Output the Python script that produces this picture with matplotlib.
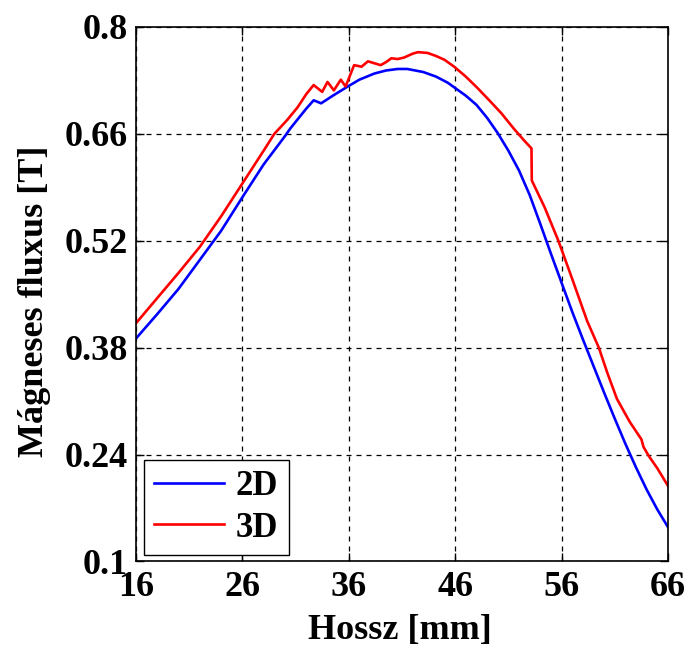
import matplotlib
matplotlib.use("Agg")
import matplotlib.pyplot as plt

x_2d = [16, 18, 20, 22, 24, 26, 28, 30, 30.5, 32, 32.7, 33.4, 34.5, 35.9, 37, 38.4,
        39.5, 40.6, 41.5, 43, 44.2, 45.3, 46.1, 47, 48, 49, 50, 51, 52, 53, 54,
        55, 56, 57, 58, 59, 60, 61, 62, 63, 64, 65, 66]
y_2d = [0.392, 0.424, 0.457, 0.495, 0.533, 0.577, 0.620, 0.657, 0.667, 0.693,
        0.704, 0.700, 0.710, 0.722, 0.731, 0.739, 0.743, 0.745, 0.745, 0.741,
        0.735, 0.727, 0.719, 0.710, 0.698, 0.681, 0.661, 0.638, 0.612, 0.580,
        0.542, 0.503, 0.465, 0.427, 0.391, 0.356, 0.321, 0.287, 0.254, 0.223,
        0.194, 0.168, 0.145]

x_3d = [16, 18, 20, 22, 24, 26, 28, 29, 30.2, 31.2, 32.0, 32.7, 33.5, 34.0, 34.6,
        35.25, 35.7, 36.5, 37.2, 37.8, 39.0, 39.5, 40.0, 40.6, 41.2, 42.0, 42.5,
        43.4, 44.2, 45.0, 45.9, 47.0, 48.1, 49.2, 50.34, 51.5, 52.5, 53.17, 53.2,
        54.4, 55.7, 57.0, 58.4, 59.5, 60.3, 61.2, 62.4, 63.5, 63.7, 64.2, 65.0, 66.0]
y_3d = [0.412, 0.445, 0.478, 0.512, 0.552, 0.595, 0.638, 0.660, 0.678, 0.695,
        0.712, 0.724, 0.715, 0.728, 0.717, 0.731, 0.722, 0.750, 0.748, 0.755,
        0.750, 0.754, 0.759, 0.758, 0.760, 0.765, 0.767, 0.766, 0.762, 0.757,
        0.748, 0.735, 0.720, 0.704, 0.687, 0.667, 0.651, 0.641, 0.599, 0.564,
        0.520, 0.470, 0.415, 0.380, 0.347, 0.313, 0.283, 0.260, 0.250, 0.238,
        0.222, 0.199]

x_ticks = [16, 26, 36, 46, 56, 66]
y_ticks = [0.1, 0.24, 0.38, 0.52, 0.66, 0.8]
y_tick_labels = ["0.1", "0.24", "0.38", "0.52", "0.66", "0.8"]

plt.rcParams['font.family'] = ['Liberation Serif', 'DejaVu Serif']
plt.rcParams['font.weight'] = 'bold'

fig = plt.figure(figsize=(6.92, 6.5), dpi=100)
ax = fig.add_axes([0.1965, 0.1362, 0.7688, 0.8223])

ax.plot(x_2d, y_2d, color='#0000ff', lw=1.9, label='2D')
ax.plot(x_3d, y_3d, color='#ff0000', lw=1.9, label='3D')

ax.set_xlim(16, 66)
ax.set_ylim(0.1, 0.8)
ax.set_xticks(x_ticks)
ax.set_yticks(y_ticks)
ax.set_yticklabels(y_tick_labels)
ax.tick_params(direction='in', top=True, right=True, labelsize=26, length=6,
               width=1.0)
ax.tick_params(axis='y', pad=6)
ax.tick_params(axis='x', pad=7)
for lab in ax.get_xticklabels() + ax.get_yticklabels():
    lab.set_fontweight('bold')
ax.grid(True, color='black', linestyle=(0, (4, 4)), linewidth=0.9)
for s in ax.spines.values():
    s.set_linewidth(1.2)

ax.set_xlabel('Hossz [mm]', fontsize=26, fontweight='bold', va='top')
ax.set_ylabel('Mágneses fluxus [T]', fontsize=26, fontweight='bold')
ax.xaxis.set_label_coords(0.496, -0.098)
ax.yaxis.set_label_coords(-0.16, 0.486)

leg = ax.legend(loc='lower left', bbox_to_anchor=(0.015, 0.012, 0.2726, 0.191),
                mode='expand', borderaxespad=0, fancybox=False, framealpha=1,
                edgecolor='black', prop={'size': 25, 'weight': 'bold'},
                handlelength=2.0, handletextpad=0.35, labelspacing=0.25,
                borderpad=0.3)
leg.get_frame().set_linewidth(1.0)

fig.savefig('out.png', dpi=100)
